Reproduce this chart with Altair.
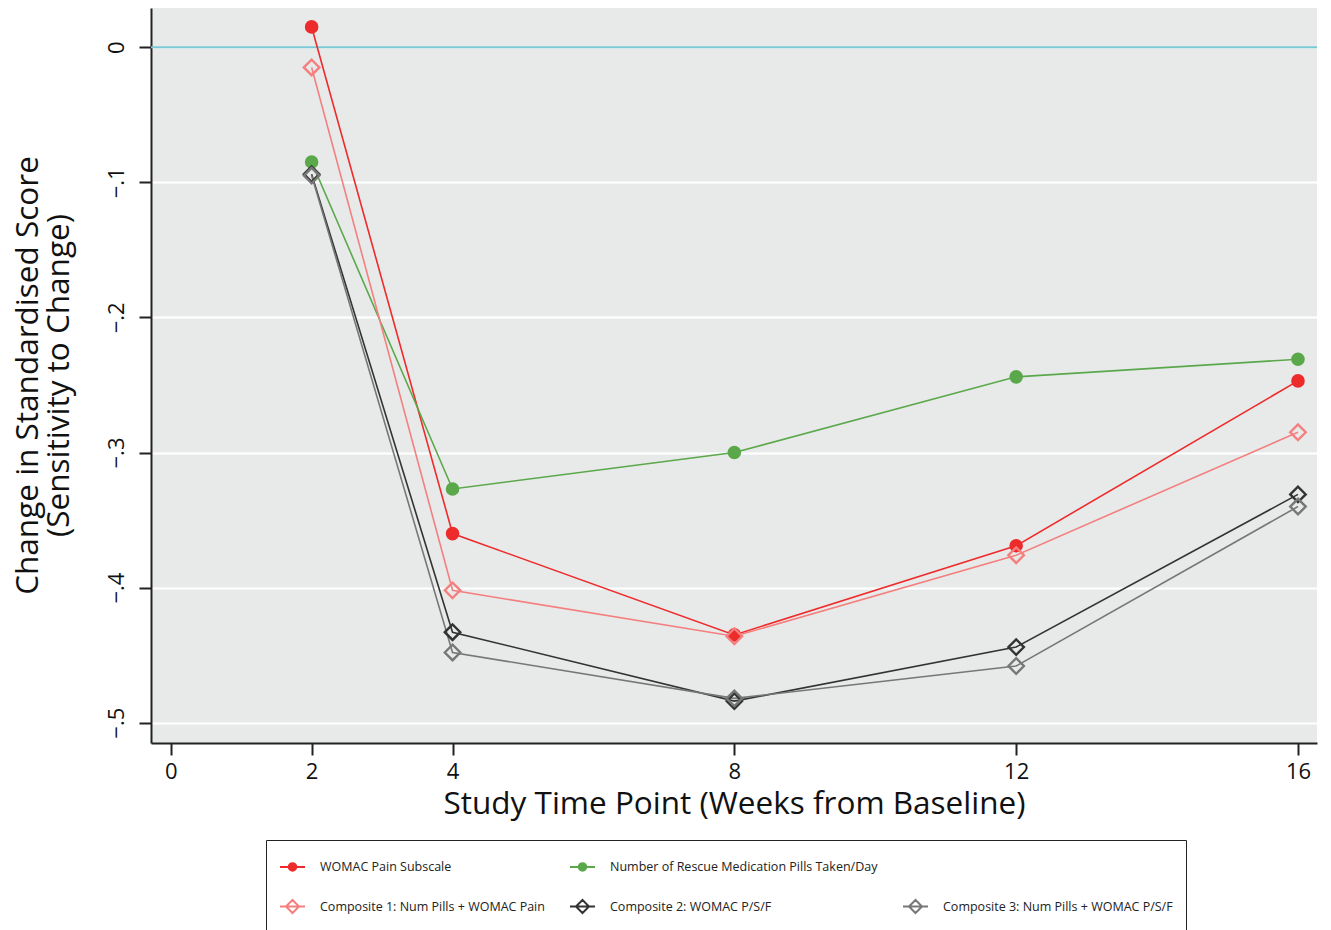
import altair as alt
import pandas as pd

weeks = [2, 4, 8, 12, 16]
womac_pain = [0.015, -0.360, -0.435, -0.369, -0.247]
rescue_pills = [-0.085, -0.327, -0.300, -0.244, -0.231]
composite1 = [-0.015, -0.402, -0.436, -0.376, -0.285]
composite2 = [-0.094, -0.433, -0.484, -0.444, -0.331]
composite3 = [-0.095, -0.448, -0.482, -0.458, -0.340]

# the blank third entry of the first legend row (its invisible label widens the last column)
blank_entry = "\u00a0" * 75
series_names = [
    "WOMAC Pain Subscale",
    "Number of Rescue Medication Pills Taken/Day",
    blank_entry,
    "Composite 1: Num Pills + WOMAC Pain",
    "Composite 2: WOMAC P/S/F",
    "Composite 3: Num Pills + WOMAC P/S/F",
]
series_colors = ["#EE2B2B", "#5BA84B", "rgba(0,0,0,0)", "#F47F7F", "#333333", "#777777"]


def ring(r):
    return "M{0},0A{0},{0},0,1,1,-{0},0A{0},{0},0,1,1,{0},0Z".format(r)


# legend glyphs: short line with a solid dot, or a short line with a hollow diamond
# (the diamond outline is traced forth and back so that it encloses no filled area)
circle_leg = "M-1,0L1,0" + ring(0.3) + ring(0.19) + ring(0.08)
diamond_leg = "M-1,0L1,0M-0.52,0L0,-0.52L0.52,0L0,0.52L-0.52,0L0,0.52L0.52,0L0,-0.52Z"
series_legend_shapes = [circle_leg, circle_leg, circle_leg, diamond_leg, diamond_leg, diamond_leg]
circle_series = series_names[:2]
diamond_series = series_names[3:]

y_ticks = [0, -0.1, -0.2, -0.3, -0.4, -0.5]
x_ticks = [0, 2, 4, 8, 12, 16]

rows = []
for name, vals in zip(
    [series_names[0], series_names[1], series_names[3], series_names[4], series_names[5]],
    [womac_pain, rescue_pills, composite1, composite2, composite3],
):
    for w, v in zip(weeks, vals):
        rows.append({"series": name, "week": w, "value": v})
df = pd.DataFrame(rows)

FONT = "Open Sans"

x_enc = alt.X(
    "week:Q",
    scale=alt.Scale(domain=[-0.28, 16.27], nice=False, zero=False),
    axis=alt.Axis(
        values=x_ticks,
        format="d",
        title="Study Time Point (Weeks from Baseline)",
        titleFontSize=31.5,
        titleFont=FONT,
        titleFontWeight="normal",
        titleColor="#111111",
        titlePadding=6,
        labelFontSize=22,
        labelFont=FONT,
        labelColor="#111111",
        labelPadding=6,
        tickSize=12,
        tickWidth=2,
        tickColor="#222222",
        domainColor="#222222",
        domainWidth=2,
        grid=False,
        labelFlush=False,
    ),
)
y_enc = alt.Y(
    "value:Q",
    scale=alt.Scale(domain=[-0.515, 0.029], nice=False, zero=False),
    axis=alt.Axis(
        values=y_ticks,
        labelExpr="datum.value == 0 ? '0' : replace(format(datum.value, '.1f'), '0.', '.')",
        title=["Change in Standardised Score", "(Sensitivity to Change)"],
        titleFontSize=31.5,
        titleFont=FONT,
        titleFontWeight="normal",
        titleColor="#111111",
        titleAngle=270,
        titleX=-114,
        titleY=367,
        titleAlign="center",
        titleBaseline="alphabetic",
        titleLineHeight=31,
        labelFontSize=22,
        labelFont=FONT,
        labelColor="#111111",
        labelAngle=270,
        labelAlign="center",
        labelBaseline="alphabetic",
        labelPadding=16,
        tickSize=12,
        tickWidth=2,
        tickColor="#222222",
        domainColor="#222222",
        domainWidth=2,
        grid=True,
        gridColor="#FFFFFF",
        gridWidth=2,
        labelFlush=False,
    ),
)

color_scale = alt.Scale(domain=series_names, range=series_colors)

base = alt.Chart(df)

legend = alt.Legend(
    title=None,
    orient="none",
    legendX=115,
    legendY=832,
    direction="horizontal",
    columns=3,
    columnPadding=21,
    rowPadding=18,
    padding=13,
    strokeColor="#222222",
    fillColor="#FFFFFF",
    labelFont=FONT,
    labelFontSize=12.5,
    labelColor="#222222",
    labelOffset=14,
    symbolSize=625,
    symbolStrokeWidth=2,
    symbolOpacity=1,
    symbolFillColor="transparent",
    labelLimit=400,
)

# legend-only layer (no rows survive the filter); it carries the combined legend
carrier = base.transform_filter("false").mark_point(filled=False, strokeWidth=2).encode(
    x="week:Q",
    y="value:Q",
    color=alt.Color("series:N", scale=color_scale, legend=legend),
    shape=alt.Shape("series:N", scale=alt.Scale(domain=series_names, range=series_legend_shapes), legend=legend),
)

zero_line = alt.Chart(pd.DataFrame({"value": [0]})).mark_rule(
    color="#78C8D6", strokeWidth=2
).encode(y=alt.Y("value:Q", scale=alt.Scale(domain=[-0.515, 0.029], nice=False, zero=False)))

lines = base.mark_line(strokeWidth=1.6).encode(
    x=x_enc,
    y=y_enc,
    color=alt.Color("series:N", scale=color_scale, legend=None),
    detail="series:N",
)

circles = base.transform_filter(
    alt.FieldOneOfPredicate(field="series", oneOf=circle_series)
).mark_point(shape="circle", filled=True, size=185, opacity=1).encode(
    x="week:Q",
    y="value:Q",
    color=alt.Color("series:N", scale=color_scale, legend=None),
)

diamonds = base.transform_filter(
    alt.FieldOneOfPredicate(field="series", oneOf=diamond_series)
).mark_point(shape="diamond", filled=False, size=240, strokeWidth=2.4, opacity=1).encode(
    x="week:Q",
    y="value:Q",
    color=alt.Color("series:N", scale=color_scale, legend=None),
)

chart = alt.layer(carrier, zero_line, lines, circles, diamonds).properties(
    width=1166,
    height=735,
    padding={"left": 143, "top": 0, "right": 6, "bottom": 220},
    autosize=alt.AutoSizeParams(type="none"),
    background="#FFFFFF",
).configure_view(
    fill="#E8EAEA", stroke=None
)

chart.save("out.html", embed_options={"renderer": "svg", "actions": False})
